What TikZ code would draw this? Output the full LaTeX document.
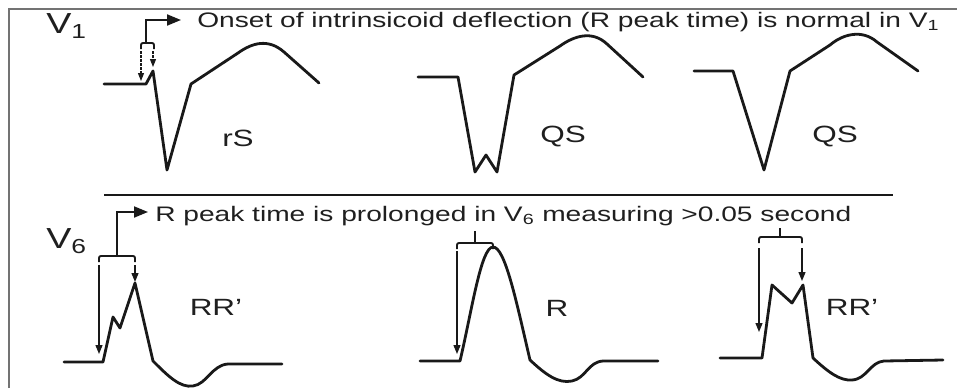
\documentclass[tikz,border=0pt]{standalone}
\usepackage{fontspec}
\setmainfont{Liberation Sans}
\usetikzlibrary{arrows.meta}
\begin{document}
\begin{tikzpicture}[x=1pt,y=-1pt,
  wave/.style={line width=2.8pt,line join=round,line cap=round,black!90},
  brace/.style={line width=1.9pt,rounded corners=2pt,black!90},
  ptr/.style={line width=1.3pt,black!90,-{Triangle[length=9pt,width=7pt]}},
  dptr/.style={line width=1.1pt,black!90,dash pattern=on 2.5pt off 1.5pt,-{Triangle[length=8pt,width=6pt]}},
  lead/.style={line width=1.9pt,black!90,-{Triangle[length=14pt,width=11pt]}},
  bigtxt/.style={inner sep=0pt,xscale=1.34,font=\fontsize{21}{24}\selectfont,text=black!88},
  lbl/.style={inner sep=0pt,xscale=1.34,font=\fontsize{23.5}{26}\selectfont,text=black!88},
  vlbl/.style={inner sep=0pt,xscale=1.3,font=\fontsize{29}{31}\selectfont,text=black!88}]
\useasboundingbox (0,0) rectangle (957,388);
% frame
\draw[line width=1.6pt,black!55] (9,388) -- (9,9) -- (957,9);
% divider
\draw[line width=2.4pt,black!90] (104,195) -- (893,195);

% labels
\node[vlbl,anchor=base west] (v1) at (46,33) {V\textsubscript{1}};
\node[vlbl,anchor=base west] (v6) at (46,248) {V\textsubscript{6}};
\node[bigtxt,anchor=base west] (t1) at (197,27) {Onset of intrinsicoid deflection (R peak time) is normal in V\textsubscript{1}};
\node[bigtxt,anchor=base west] (t2) at (155,221) {R peak time is prolonged in V\textsubscript{6} measuring >0.05 second};
\node[lbl] (rs) at (238,138) {rS};
\node[lbl] (qs1) at (563,137) {QS};
\node[lbl] (qs2) at (835,137) {QS};
\node[lbl] (rr1) at (216,307) {RR’};
\node[lbl] (r) at (557,308) {R};
\node[lbl] (rr2) at (852,307) {RR’};

% V1 waveforms
\draw[wave] (104,84) -- (146,84) -- (153,71) -- (167,170) -- (191,84) -- (238,53)
  .. controls (252,43) and (268,38) .. (284,52) -- (319,83);
\draw[wave] (418,77) -- (458,77) -- (475,172) -- (486,155) -- (497,172) -- (514,75) -- (560,46)
  .. controls (574,36) and (592,30) .. (607,44) -- (643,77);
\draw[wave] (694,71) -- (733,71) -- (764,170) -- (790,71) -- (830,45)
  .. controls (843,34) and (862,29) .. (877,42) -- (918,71);

% V6 waveforms
\draw[wave] (64,362) -- (103,362) -- (113,317) -- (120,328) -- (135,283) -- (153,361)
  .. controls (168,376) and (180,388) .. (193,386)
  .. controls (207,384) and (212,365) .. (228,364) -- (282,364);
\draw[wave] (420,361) -- (460,361)
  .. controls (472,310) and (481,247) .. (493,247)
  .. controls (505,247) and (516,300) .. (530,360)
  .. controls (545,374) and (558,384) .. (572,381)
  .. controls (586,378) and (588,362) .. (603,361) -- (658,361);
\draw[wave] (720,358) -- (762,358) -- (772,285) -- (792,303) -- (803,285) -- (813,358)
  .. controls (828,372) and (840,381) .. (852,380)
  .. controls (867,379) and (870,362) .. (884,361) -- (943,360);

% V1 rS markers
\coordinate (a1) at (146,43);
\coordinate (a1t) at (181,20);
\draw[lead] (a1) |- (a1t);
\draw[brace] (141,49) -- (141,43) -- (154,43) -- (154,49);
\coordinate (d1s) at (141,51); \coordinate (d1e) at (141,81);
\coordinate (d2s) at (153,51); \coordinate (d2e) at (153,67);
\draw[dptr] (d1s) -- (d1e);
\draw[dptr] (d2s) -- (d2e);

% V6 RR' (first)
\coordinate (b1) at (117,256);
\coordinate (b1t) at (148,212);
\draw[lead] (b1) |- (b1t);
\draw[brace] (99,262) -- (99,256) -- (135,256) -- (135,262);
\coordinate (e1s) at (99,265); \coordinate (e1e) at (99,354);
\coordinate (e2s) at (135,265); \coordinate (e2e) at (135,282);
\draw[ptr] (e1s) -- (e1e);
\draw[ptr] (e2s) -- (e2e);

% V6 R
\draw[brace] (457,249) -- (457,243) -- (493,243) -- (493,249);
\draw[line width=1.6pt,black!90] (475,243) -- (475,231);
\coordinate (f1s) at (457,251); \coordinate (f1e) at (457,354);
\draw[ptr] (f1s) -- (f1e);

% V6 RR' (second)
\draw[brace] (759,243) -- (759,237) -- (802,237) -- (802,243);
\draw[line width=1.6pt,black!90] (780,237) -- (780,228);
\coordinate (g1s) at (759,248); \coordinate (g1e) at (759,332);
\coordinate (g2s) at (802,248); \coordinate (g2e) at (802,281);
\draw[ptr] (g1s) -- (g1e);
\draw[ptr] (g2s) -- (g2e);
\end{tikzpicture}
\end{document}
